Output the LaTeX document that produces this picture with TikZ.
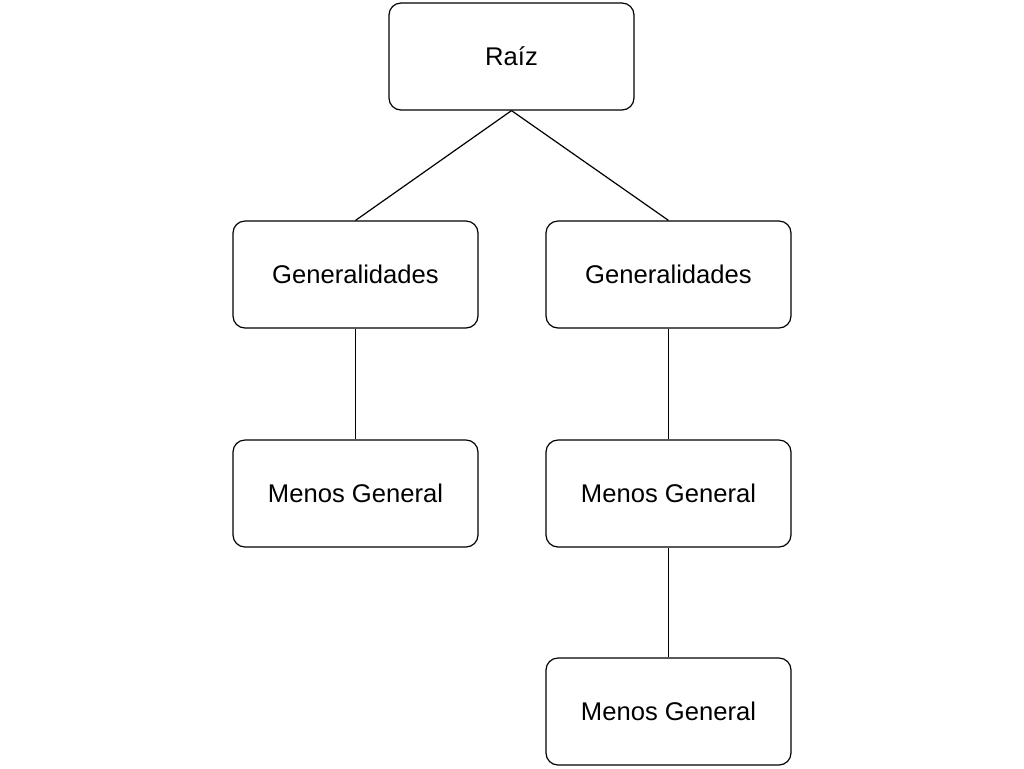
\documentclass[tikz,border=0pt]{standalone}
\usepackage{fontspec}
\setmainfont{Liberation Sans}
\begin{document}
\begin{tikzpicture}[x=0.5pt,y=-0.5pt,
  box/.style={draw=black,line width=0.6pt,rounded corners=6pt,minimum width=122.5pt,minimum height=53.5pt,inner sep=0pt,font=\fontsize{12.8}{15}\selectfont,fill=white},
  link/.style={draw=black,line width=0.6pt}]
\useasboundingbox[fill=white] (0,0) rectangle (1024,768);
\node[box] (r) at (511.5,56.5) {Raíz};
\node[box] (g1) at (355.5,274.5) {Generalidades};
\node[box] (g2) at (668.5,274.5) {Generalidades};
\node[box] (m1) at (355.5,493.5) {Menos General};
\node[box] (m2) at (668.5,493.5) {Menos General};
\node[box] (m3) at (668.5,711.5) {Menos General};
\draw[link] (r.south) -- (g1.north);
\draw[link] (r.south) -- (g2.north);
\draw[link] (g1.south) -- (m1.north);
\draw[link] (g2.south) -- (m2.north);
\draw[link] (m2.south) -- (m3.north);
\end{tikzpicture}
\end{document}
